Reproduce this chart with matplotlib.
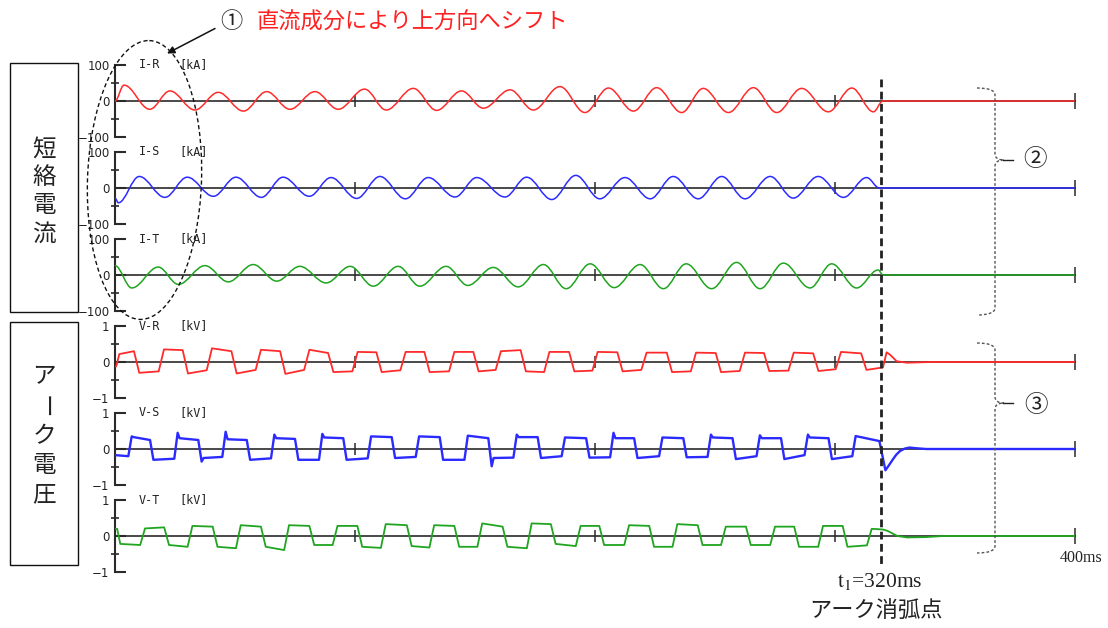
import matplotlib
matplotlib.use("Agg")
import matplotlib.pyplot as plt
from matplotlib.path import Path
from matplotlib.patches import PathPatch, Rectangle, Ellipse

plt.rcParams['font.family'] = ['Noto Sans CJK JP', 'DejaVu Sans']
plt.rcParams['mathtext.fontset'] = 'stix'

# ---- short-circuit currents [kA]: peaks / troughs (t in ms) ----
IR_t = [0, 3.75, 14.5, 22.9, 33.3, 43, 53.5, 63.2, 72.9, 83.3, 93, 104, 113, 124.3, 134, 144.4,
        153.5, 164.6, 174.3, 185.4, 195.8, 205.6, 216, 225.7, 236.1, 245.1, 255.6, 266, 275.7,
        286.1, 297.2, 307, 316, 320, 400]
IR_v = [0, 44, -23, 28, -25, 24, -28, 26, -23, 26, -23, 33, -25, 35, -26, 28,
        -20, 31, -25, 40, -32, 36, -28, 37, -32, 35, -32, 37, -32,
        35, -30, 36, -30, 0, 0]

IS_t = [0, 1.4, 10.1, 20.8, 30.1, 41, 50.4, 61, 70, 81, 90, 100.7, 110.4, 121, 130.5, 141.7,
        150.7, 162.5, 171.5, 182, 192, 202, 212.5, 223, 232.6, 243, 252.8, 262.5, 273, 282.6,
        293, 303.5, 313.2, 318.5, 400]
IS_v = [-28, -41, 32, -26, 30, -23, 30, -26, 30, -23, 29, -29, 32, -30, 29, -25,
        29, -25, 30, -32, 35, -30, 29, -30, 32, -30, 32, -30, 32, -28,
        32, -26, 29, 0, 0]

IT_t = [0, 7, 18, 26.4, 37.5, 47.2, 57.6, 67.4, 77, 88, 98, 107.6, 118, 127, 138, 147,
        157.6, 168, 178.5, 188, 198, 208, 218.8, 228.5, 238, 248.6, 259, 268.8, 278.5, 289.6,
        298.6, 309, 318, 320, 400]
IT_v = [26, -36, 22, -26, 26, -19, 29, -17, 24, -22, 24, -31, 24, -31, 24, -29,
        21, -33, 29, -38, 31, -35, 29, -38, 31, -38, 35, -38, 33, -36,
        31, -36, 14, 0, 0]

# ---- arc voltages [kV]: switching instants and plateau levels (start / end of plateau) ----
VR_edges = [0.7, 9, 19.3, 29.3, 39.3, 49.6, 59.7, 69.9, 79.9, 89.9, 100, 110, 120, 130, 140.3,
            150.4, 159.7, 170.1, 179.9, 190.3, 200, 210.4, 220.4, 231, 241, 251.4, 261.4, 271.5,
            281.7, 292, 301.4, 312]
VR_start = [-0.12, 0.22, -0.30, 0.35, -0.32, 0.38, -0.32, 0.34, -0.33, 0.34, -0.28, 0.28, -0.28,
            0.28, -0.28, 0.28, -0.26, 0.30, -0.26, 0.28, -0.26, 0.28, -0.26, 0.26, -0.28, 0.26,
            -0.28, 0.26, -0.25, 0.26, -0.25, 0.28, -0.22]
VR_end = [-0.12, 0.30, -0.26, 0.33, -0.23, 0.30, -0.22, 0.30, -0.22, 0.25, -0.26, 0.27, -0.23,
          0.28, -0.26, 0.28, -0.22, 0.33, -0.28, 0.28, -0.24, 0.27, -0.22, 0.26, -0.26, 0.25,
          -0.25, 0.25, -0.24, 0.24, -0.20, 0.24, -0.15]
VR_tail_t = [321.5, 323, 325.7, 330, 340, 400]
VR_tail_v = [0.27, 0.20, 0.02, -0.02, 0, 0]

VS_edges = [6.25, 15.3, 25.4, 35.4, 45.4, 55.6, 65.7, 75.7, 85.7, 95.8, 106, 116, 126, 136, 146.3,
            156.25, 166.7, 176.8, 186.8, 197, 207, 217, 227.4, 237.5, 247.6, 258, 268, 278.2,
            288, 298, 307.9]
VS_start = [-0.17, 0.33, -0.30, 0.30, -0.25, 0.27, -0.30, 0.30, -0.30, 0.32, -0.30, 0.35, -0.25,
            0.35, -0.30, 0.37, -0.25, 0.33, -0.25, 0.32, -0.24, 0.30, -0.25, 0.32, -0.23, 0.32,
            -0.28, 0.30, -0.28, 0.32, -0.28, 0.36]
VS_end = [-0.20, 0.25, -0.27, 0.25, -0.22, 0.25, -0.26, 0.28, -0.30, 0.30, -0.26, 0.33, -0.22,
          0.33, -0.30, 0.30, -0.24, 0.33, -0.20, 0.30, -0.23, 0.30, -0.20, 0.30, -0.22, 0.30,
          -0.20, 0.30, -0.17, 0.30, -0.20, 0.22]
VS_spike = [None, 0.35, None, 0.45, -0.35, 0.48, None, 0.40, None, 0.42, None, None, None,
            None, None, None, -0.48, 0.40, None, None, None, 0.45, None, None, None, 0.40,
            None, 0.38, None, 0.40, None, None]
VS_tail_t = [321, 322.5, 324, 325.5, 327, 329, 331, 334, 338, 400]
VS_tail_v = [-0.59, -0.45, -0.30, -0.16, -0.06, 0.01, 0.04, 0.02, 0, 0]

VT_edges = [1.2, 11.5, 21.5, 31.25, 41.7, 51.4, 61.8, 71.5, 82, 91.7, 102, 111.8, 122.6, 132,
            142.4, 152, 162.5, 172.6, 182.6, 193, 202.8, 213.2, 223.6, 233.3, 243.8, 253.5,
            263.9, 274, 284, 294, 304.2, 314.3]
VT_start = [0.20, -0.22, 0.21, -0.25, 0.28, -0.30, 0.30, -0.30, 0.30, -0.25, 0.28, -0.30, 0.33,
            -0.28, 0.30, -0.30, 0.35, -0.30, 0.35, -0.22, 0.28, -0.25, 0.30, -0.30, 0.33, -0.25,
            0.26, -0.25, 0.26, -0.30, 0.28, -0.30, 0.20]
VT_end = [0.20, -0.25, 0.24, -0.30, 0.26, -0.34, 0.26, -0.39, 0.28, -0.25, 0.28, -0.33, 0.30,
          -0.32, 0.28, -0.30, 0.26, -0.34, 0.33, -0.28, 0.28, -0.25, 0.28, -0.30, 0.30, -0.25,
          0.26, -0.25, 0.26, -0.30, 0.28, -0.26, 0.18]
VT_tail_t = [322, 326, 330, 338, 345, 400]
VT_tail_v = [0.14, 0.0, -0.04, -0.03, 0, 0]

W, H = 1108, 628
fig = plt.figure(figsize=(W / 100, H / 100), dpi=100)

RED, BLUE, GREEN = '#ff2b2b', '#2b2bff', '#1fa51f'
AXC = '#2a2a2a'


def smooth_path(ts, vs, k=0.36):
    # cubic bezier between successive extremes (flat tangent at each peak)
    verts = [(ts[0], vs[0])]
    codes = [Path.MOVETO]
    for i in range(1, len(ts)):
        dt = ts[i] - ts[i - 1]
        verts += [(ts[i - 1] + k * dt, vs[i - 1]), (ts[i] - k * dt, vs[i]), (ts[i], vs[i])]
        codes += [Path.CURVE4] * 3
    return Path(verts, codes)


def square_wave(edges, v0, v1, t_end, w, spikes=None):
    bounds = [0.0] + list(edges) + [t_end]
    ts, vs = [], []
    n = len(v0)
    for i in range(n):
        a, b = bounds[i], bounds[i + 1]
        h = min(w / 2, (b - a) / 4)
        ta = a if i == 0 else a + h
        tb = b if i == n - 1 else b - h
        if spikes is not None and spikes[i] is not None:
            ts += [ta, ta + 0.8]
            vs += [spikes[i], v0[i]]
        else:
            ts.append(ta)
            vs.append(v0[i])
        ts.append(tb)
        vs.append(v1[i])
    return ts, vs


def make_panel(yc, lim, name, unit, labels):
    ax = fig.add_axes([115 / W, 1 - (yc + 36) / H, 960 / W, 72 / H])
    ax.set_xlim(0, 400)
    ax.set_ylim(-lim, lim)
    ax.patch.set_alpha(0)
    ax.spines['top'].set_visible(False)
    ax.spines['right'].set_visible(False)
    ax.spines['left'].set_color(AXC)
    ax.spines['left'].set_linewidth(1.5)
    ax.spines['bottom'].set_position(('data', 0))
    ax.spines['bottom'].set_color(AXC)
    ax.spines['bottom'].set_linewidth(1.2)
    ax.set_xticks([100, 200, 300, 400])
    ax.tick_params(axis='x', direction='inout', length=9, width=1.1, color=AXC,
                   labelbottom=False)
    last = ax.xaxis.get_major_ticks()[-1]
    last.tick1line.set_color('#888888')
    last.tick1line.set_markersize(12)
    ax.set_yticks([-lim, 0, lim])
    ax.set_yticklabels(labels)
    ax.set_yticks([-lim / 2, lim / 2], minor=True)
    ax.tick_params(axis='y', which='major', direction='in', length=8, width=1.5, color=AXC,
                   pad=4, labelsize=8.5, labelcolor='#222222')
    ax.tick_params(axis='y', which='minor', direction='inout', length=6, width=1.2, color=AXC)
    for lab in ax.get_yticklabels():
        lab.set_family('DejaVu Sans')
    ax.text(10, lim, name, family='DejaVu Sans Mono', fontsize=8.5, va='center', color='#222222')
    ax.text(27, lim, unit, family='DejaVu Sans Mono', fontsize=8.5, va='center', color='#222222')
    return ax


centers = [101, 188, 275, 362, 449, 536]
kA = ['\u2212100', '0', '100']
kV = ['\u22121', '0', '1']

currents = [('I-R', IR_t, IR_v, RED), ('I-S', IS_t, IS_v, BLUE), ('I-T', IT_t, IT_v, GREEN)]
for yc, (name, ts, vs, col) in zip(centers[:3], currents):
    ax = make_panel(yc, 100, name, '[kA]', kA)
    ax.add_patch(PathPatch(smooth_path(ts, vs), fill=False, ec=col, lw=1.1, zorder=3))

vr_t, vr_v = square_wave(VR_edges, VR_start, VR_end, 320, 2.2)
vs_t, vs_v = square_wave(VS_edges, VS_start, VS_end, 318.5, 1.4, VS_spike)
vt_t, vt_v = square_wave(VT_edges, VT_start, VT_end, 320, 2.0)
voltages = [('V-R', vr_t + VR_tail_t, vr_v + VR_tail_v, RED, 1.3),
            ('V-S', vs_t + VS_tail_t, vs_v + VS_tail_v, BLUE, 1.7),
            ('V-T', vt_t + VT_tail_t, vt_v + VT_tail_v, GREEN, 1.3)]
for yc, (name, ts, vs, col, lw) in zip(centers[3:], voltages):
    ax = make_panel(yc, 1, name, '[kV]', kV)
    ax.plot(ts, vs, color=col, lw=lw, zorder=3, solid_joinstyle='round')

# ---- annotation layer in pixel coordinates ----
ov = fig.add_axes([0, 0, 1, 1], zorder=10)
ov.set_xlim(0, W)
ov.set_ylim(H, 0)
ov.axis('off')

ov.add_patch(Rectangle((10, 63), 68, 249, fill=False, ec='#111111', lw=1.0))
ov.add_patch(Rectangle((10, 322), 68, 243, fill=False, ec='#111111', lw=1.0))
for ch, y in zip('短絡電流', [150, 178, 206, 234]):
    ov.text(44, y, ch, fontsize=17, ha='center', va='center', color='#222222')
for ch, y in zip('アーク電圧', [377, 407, 437, 466, 495]):
    ov.text(44, y, ch, fontsize=17, ha='center', va='center', color='#222222',
            rotation=-90 if ch == 'ー' else 0)

ov.text(231, 22, '①', fontsize=16, ha='center', va='center', color='#222222')
ov.text(257, 22, '直流成分により上方向へシフト', fontsize=16, ha='left', va='center',
        color='#ff2020')
ov.annotate('', xy=(167, 53.5), xytext=(215, 28.5),
            arrowprops=dict(arrowstyle='-|>', lw=1.1, color='#111111', mutation_scale=11,
                            shrinkA=0, shrinkB=0))
ov.add_patch(Ellipse((144.5, 180), 114, 279, angle=2, fill=False, ec='#111111', lw=1.0,
                     ls=(0, (3, 2))))

ov.plot([880.5, 880.5], [79, 566], color='#222222', lw=2.0, ls=(0, (2.8, 1.6)))


def brace(x0, x1, xt, y0, ym, y1):
    verts = [(x0, y0), (x1, y0), (x1, y0 + 7), (x1, ym - 6), (x1, ym), (xt, ym),
             (x1, ym), (x1, ym + 6), (x1, y1 - 7), (x1, y1), (x0, y1)]
    codes = [Path.MOVETO, Path.CURVE3, Path.CURVE3, Path.LINETO, Path.CURVE3, Path.CURVE3,
             Path.CURVE3, Path.CURVE3, Path.LINETO, Path.CURVE3, Path.CURVE3]
    ov.add_patch(PathPatch(Path(verts, codes), fill=False, ec='#555555', lw=1.0,
                           ls=(0, (2, 1.5))))
    ov.plot([xt - 1, xt + 9], [ym, ym], color='#222222', lw=1.0)


brace(977, 995, 1004, 88, 160, 315)
brace(977, 995, 1004, 343, 403, 553)
ov.text(1035, 160, '②', fontsize=17, ha='center', va='center', color='#222222')
ov.text(1036, 405, '③', fontsize=17, ha='center', va='center', color='#222222')

ov.text(880, 582, r'$\mathrm{t}_{1}$=320ms', family='Liberation Serif', fontsize=15.5,
        ha='center', va='center', color='#222222')
ov.text(876, 610, 'アーク消弧点', fontsize=16, ha='center', va='center', color='#222222')
ov.text(1081, 558, '400ms', family='Liberation Serif', fontsize=11.5, ha='center', va='center',
        color='#222222')

fig.savefig('out.png', dpi=100)
